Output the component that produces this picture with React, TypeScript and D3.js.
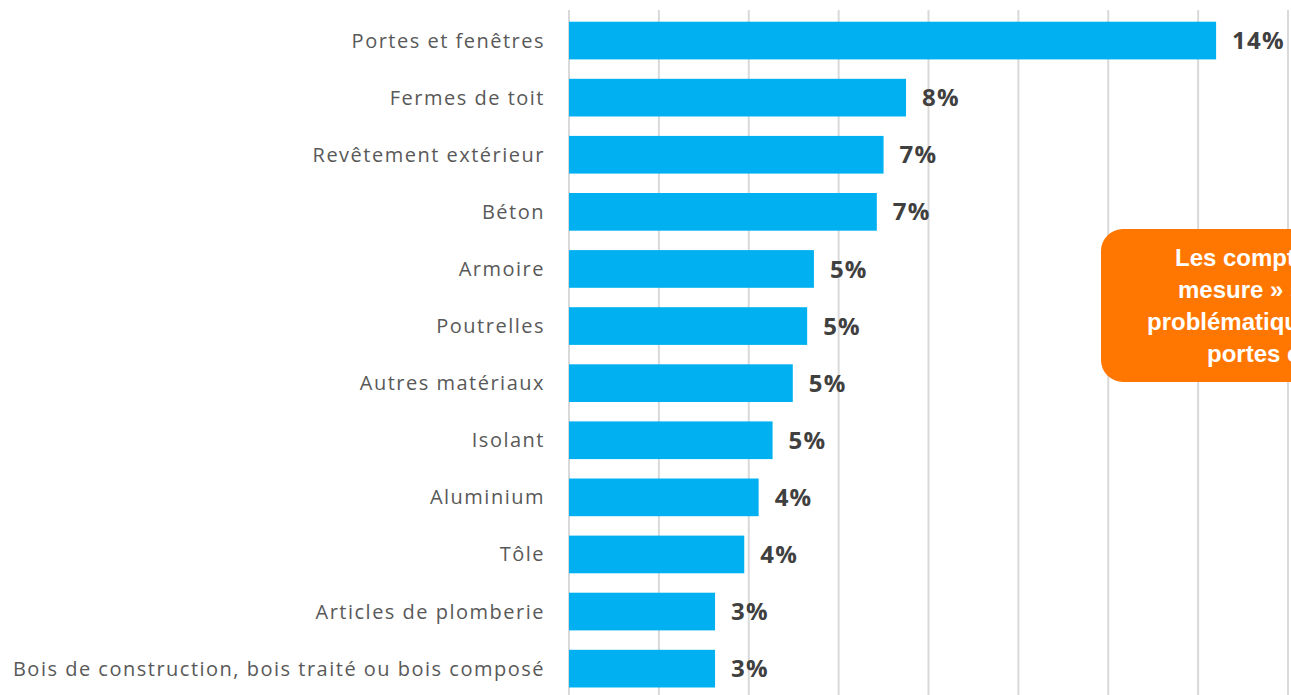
import { useEffect, useRef } from 'react';
import * as d3 from 'd3';

// chart data
const categories = [
  'Portes et fenêtres',
  'Fermes de toit',
  'Revêtement extérieur',
  'Béton',
  'Armoire',
  'Poutrelles',
  'Autres matériaux',
  'Isolant',
  'Aluminium',
  'Tôle',
  'Articles de plomberie',
  'Bois de construction, bois traité ou bois composé',
];
const values = [14.4, 7.5, 7.0, 6.85, 5.45, 5.3, 4.98, 4.53, 4.22, 3.9, 3.25, 3.25];
const valueLabels = ['14%', '8%', '7%', '7%', '5%', '5%', '5%', '5%', '4%', '4%', '3%', '3%'];
const gridTicks = [0, 2, 4, 6, 8, 10, 12, 14, 16];
const calloutLines = [
  'Les comptoirs',
  'mesure » sont',
  'problématiques',
  'portes et',
];
// left edge of each callout line (the box runs past the right edge)
const calloutStarts = [1175, 1178, 1147, 1207];

const App = () => {
  const svgRef = useRef<SVGSVGElement>(null);

  useEffect(() => {
    const width = 1291;
    const height = 695;
    const margin = { top: 12, left: 569 };

    const svg = d3.select(svgRef.current);
    svg.selectAll('*').remove();

    const x = d3.scaleLinear().domain([0, 16]).range([margin.left, margin.left + 719]);
    const y = d3
      .scaleBand()
      .domain(categories)
      .range([margin.top, margin.top + 57.1 * 12])
      .paddingInner(0.34)
      .paddingOuter(0.17);

    // gridlines
    svg.append('g')
      .selectAll('line')
      .data(gridTicks)
      .join('line')
      .attr('x1', (d) => x(d))
      .attr('x2', (d) => x(d))
      .attr('y1', 10)
      .attr('y2', height)
      .attr('stroke', '#d9d9d9')
      .attr('stroke-width', 2);

    const rows = categories.map((c, i) => ({ c, v: values[i], l: valueLabels[i] }));

    // bars
    svg.append('g')
      .selectAll('rect')
      .data(rows)
      .join('rect')
      .attr('x', x(0))
      .attr('y', (d) => y(d.c)!)
      .attr('width', (d) => x(d.v) - x(0))
      .attr('height', y.bandwidth())
      .attr('fill', '#00B0F0');

    // category labels
    svg.append('g')
      .selectAll('text')
      .data(rows)
      .join('text')
      .attr('x', 545)
      .attr('y', (d) => y(d.c)! + y.bandwidth() / 2)
      .attr('dy', '0.35em')
      .attr('text-anchor', 'end')
      .attr('fill', '#595959')
      .style('font-family', '"Open Sans", sans-serif')
      .style('font-size', '20px')
      .style('letter-spacing', '1.5px')
      .text((d) => d.c);

    // value labels
    svg.append('g')
      .selectAll('text')
      .data(rows)
      .join('text')
      .attr('x', (d) => x(d.v) + 16)
      .attr('y', (d) => y(d.c)! + y.bandwidth() / 2)
      .attr('dy', '0.36em')
      .attr('fill', '#404040')
      .style('font-family', '"Open Sans", sans-serif')
      .style('font-weight', 'bold')
      .style('font-size', '24px')
      .style('letter-spacing', '1.2px')
      .text((d) => d.l);

    // callout
    const callout = svg.append('g');
    callout.append('rect')
      .attr('x', 1101)
      .attr('y', 229)
      .attr('width', 330)
      .attr('height', 153)
      .attr('rx', 22)
      .attr('fill', '#FF7700');
    callout.selectAll('text')
      .data(calloutLines)
      .join('text')
      .attr('x', (_, i) => calloutStarts[i])
      .attr('y', (_, i) => 266 + i * 32)
      .attr('fill', '#ffffff')
      .style('font-family', '"Liberation Sans", Arial, sans-serif')
      .style('font-weight', 'bold')
      .style('font-size', '24px')
      .text((d) => d);

    svg.attr('width', width).attr('height', height);
  }, []);

  return (
    <svg
      ref={svgRef}
      style={{ position: 'absolute', left: 0, top: 0, background: '#fff' }}
    />
  );
};

export default App;
